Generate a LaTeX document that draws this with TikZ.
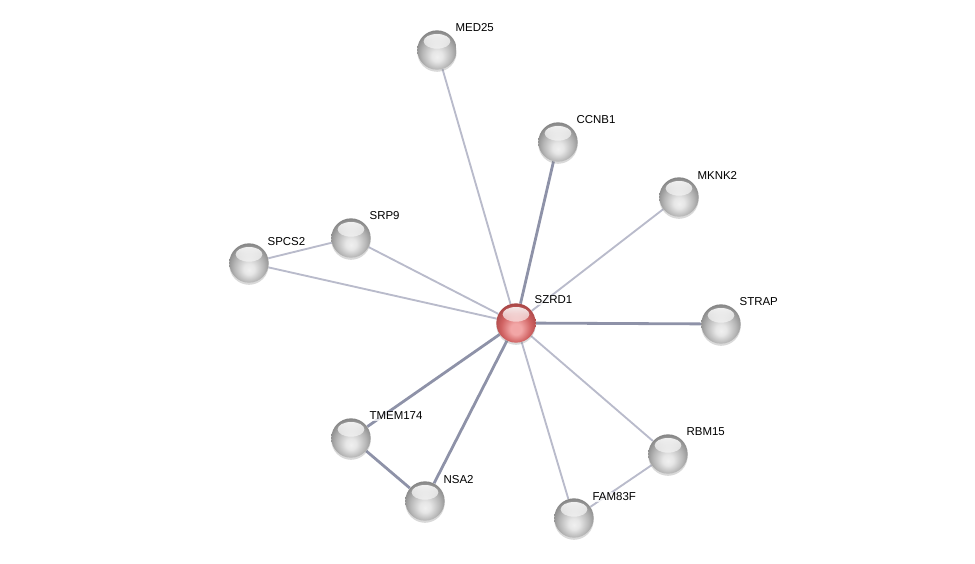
\documentclass[tikz,border=0pt]{standalone}
\usepackage{fontspec}
\setmainfont{Liberation Sans}
\usetikzlibrary{calc,backgrounds,shadows,fadings}
\definecolor{gEdge}{HTML}{7A7A7A}
\definecolor{gMid}{HTML}{B6B6B6}
\definecolor{gLight}{HTML}{E6E6E6}
\definecolor{rEdge}{HTML}{A04040}
\definecolor{rMid}{HTML}{D06262}
\definecolor{rLight}{HTML}{F2A6A6}
\definecolor{edgeL}{HTML}{B9BBCB}
\definecolor{edgeD}{HTML}{8E92A8}
\pgfdeclareradialshading{greyball}{\pgfpoint{0bp}{-9bp}}{color(0bp)=(gLight!60!white); color(7bp)=(gLight); color(19bp)=(gMid); color(31bp)=(gEdge); color(50bp)=(gEdge)}
\pgfdeclareradialshading{redball}{\pgfpoint{0bp}{-9bp}}{color(0bp)=(rLight); color(7bp)=(rLight); color(19bp)=(rMid); color(31bp)=(rEdge); color(50bp)=(rEdge)}
\tikzfading[name=hlfade, top color=transparent!5, bottom color=transparent!100]
\tikzset{
  ball/.style={circle, minimum size=29.5pt, inner sep=0pt, shading=greyball,
    drop shadow={shadow xshift=0pt, shadow yshift=-1.6pt, opacity=0.3},
    path picture={\fill[white, path fading=hlfade] ($(path picture bounding box.center)+(0,6.5pt)$) ellipse (10pt and 5.5pt);}},
  redb/.style={ball, shading=redball},
  lbl/.style={anchor=west, font=\fontsize{8.6pt}{10pt}\selectfont, fill=white, fill opacity=0.75, text opacity=1, inner sep=1pt},
  eL/.style={draw=edgeL, line width=1.4pt},
  eD/.style={draw=edgeD, line width=2.1pt},
}
\begin{document}
\begin{tikzpicture}[x=0.75pt, y=-0.75pt]
\useasboundingbox (0,0) rectangle (975,564);
\node[ball] (med) at (437,50) {};
\node[ball] (ccnb) at (558,142) {};
\node[ball] (mknk) at (679,197) {};
\node[ball] (srp) at (351,238) {};
\node[ball] (spcs) at (249,263) {};
\node[redb] (szrd) at (516,323) {};
\node[ball] (strap) at (721,324) {};
\node[ball] (tmem) at (351,438) {};
\node[ball] (rbm) at (668,454) {};
\node[ball] (nsa) at (425,501) {};
\node[ball] (fam) at (574,518) {};
\begin{scope}[on background layer]
\draw[eL] (szrd) -- (med);
\draw[eD] (szrd) -- (ccnb);
\draw[eL] (szrd) -- (mknk);
\draw[eL] (szrd) -- (srp);
\draw[eL] (szrd) -- (spcs);
\draw[eL] (spcs) -- (srp);
\draw[eD] (szrd) -- (strap);
\draw[eD] (szrd) -- (tmem);
\draw[eD] (szrd) -- (nsa);
\draw[eD] (tmem) -- (nsa);
\draw[eL] (szrd) -- (rbm);
\draw[eL] (szrd) -- (fam);
\draw[eL] (rbm) -- (fam);
\end{scope}
\node[lbl] (lmed) at ($(med)+(17,-22)$) {MED25};
\node[lbl] (lccnb) at ($(ccnb)+(17,-22)$) {CCNB1};
\node[lbl] (lmknk) at ($(mknk)+(17,-22)$) {MKNK2};
\node[lbl] (lsrp) at ($(srp)+(17,-22)$) {SRP9};
\node[lbl] (lspcs) at ($(spcs)+(17,-21)$) {SPCS2};
\node[lbl] (lszrd) at ($(szrd)+(17,-23)$) {SZRD1};
\node[lbl] (lstrap) at ($(strap)+(17,-22)$) {STRAP};
\node[lbl] (ltmem) at ($(tmem)+(17,-22)$) {TMEM174};
\node[lbl] (lrbm) at ($(rbm)+(17,-22)$) {RBM15};
\node[lbl] (lnsa) at ($(nsa)+(17,-21)$) {NSA2};
\node[lbl] (lfam) at ($(fam)+(17,-21)$) {FAM83F};
\end{tikzpicture}
\end{document}
